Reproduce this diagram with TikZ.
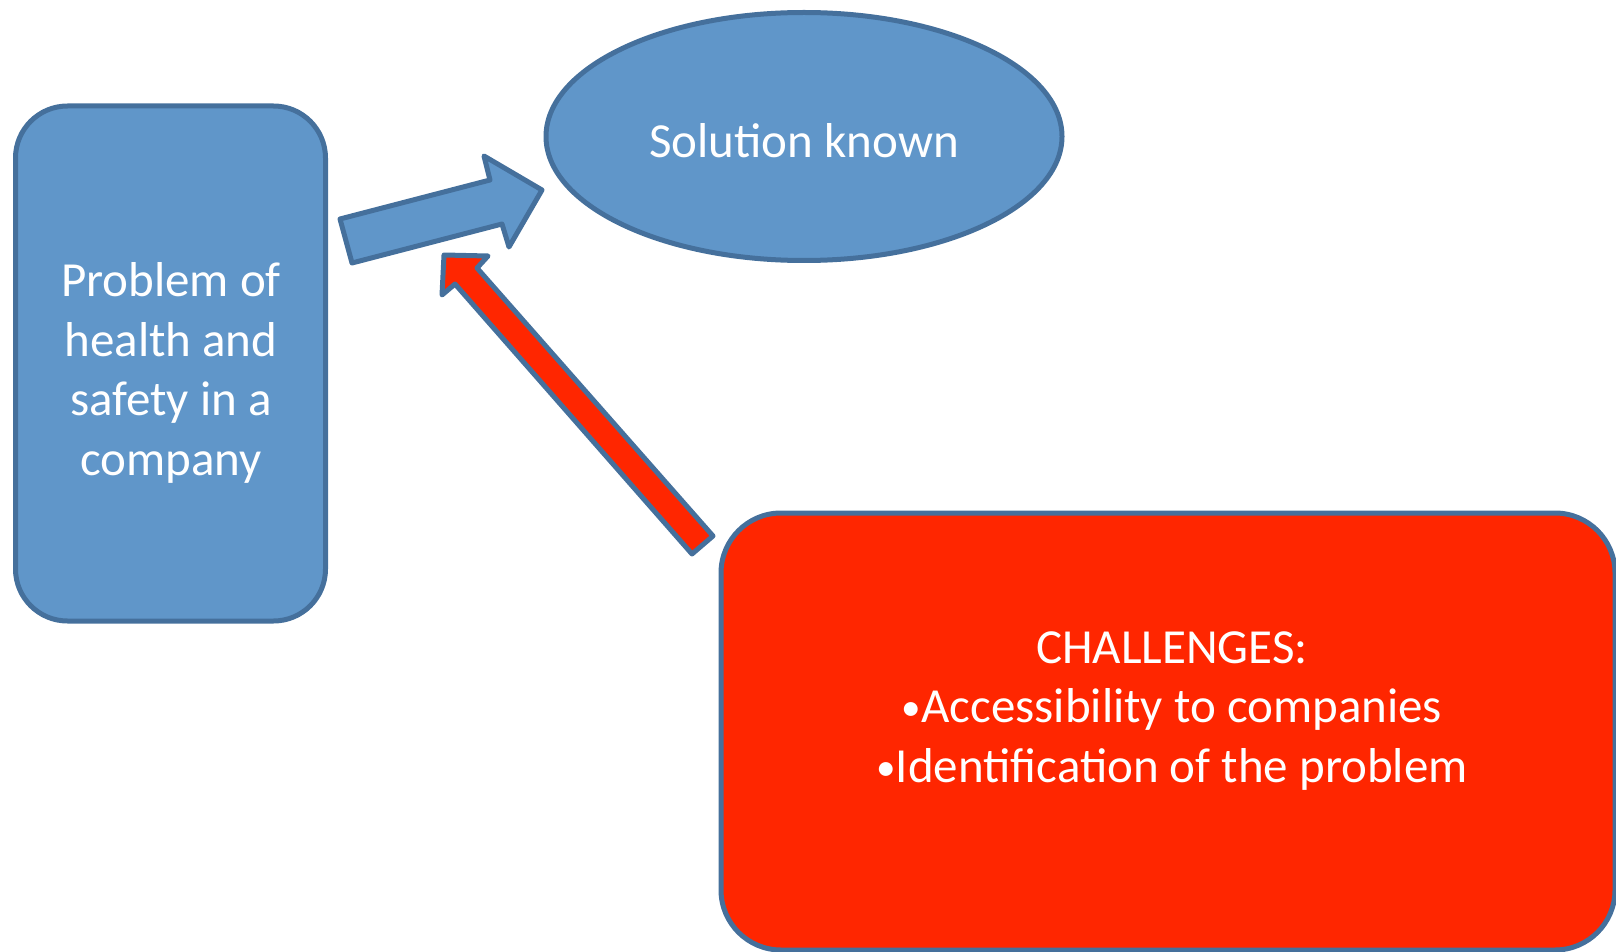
\documentclass[tikz,border=0pt]{standalone}
\usepackage{fontspec}
\setmainfont{Carlito}
\usetikzlibrary{shapes.geometric}
\definecolor{bfill}{HTML}{6096C9}
\definecolor{bline}{HTML}{45709C}
\definecolor{rfill}{HTML}{FF2600}
\tikzset{
  shapeline/.style={draw=bline, line width=2.5pt, line join=round},
  bluebox/.style={shapeline, fill=bfill, rectangle, rounded corners=26pt, inner sep=0pt},
  redbox/.style={shapeline, fill=rfill, rectangle, rounded corners=30pt, inner sep=0pt},
  oval/.style={shapeline, fill=bfill, ellipse, inner sep=0pt},
  label/.style={text=white, font=\fontsize{24.5pt}{29.75pt}\selectfont, align=center, inner sep=0pt},
  bluearrow/.style={shapeline, fill=bfill},
  redarrow/.style={shapeline, fill=rfill}
}
\newcommand{\smallbullet}{\raisebox{0.05em}{\scalebox{0.8}{•}}}
\begin{document}
\begin{tikzpicture}[x=0.5pt, y=-0.5pt]
\useasboundingbox (0,0) rectangle (1616,952);
% left box
\node[bluebox, minimum width=155pt, minimum height=257.5pt] (prob) at (170.5,363.5) {};
\node[label] (probtxt) at (171,373) {Problem of\\health and\\safety in a\\company};
% ellipse
\node[oval, minimum width=258pt, minimum height=124pt] (sol) at (804,136.5) {};
\node[label] (soltxt) at (804,141) {Solution known};
% red box
\node[redbox, minimum width=447pt, minimum height=218.5pt] (chal) at (1168,731.5) {};
\node[label] (chaltxt) at (1172,711) {CHALLENGES:\\\smallbullet Accessibility to companies\\\smallbullet Identification of the problem};
% blue block arrow
\draw[bluearrow] (340,219) -- (352,263) -- (502,224) -- (509,247) -- (542,190) -- (484,156) -- (490,180) -- cycle;
% red block arrow
\draw[redarrow] (444,255) -- (488,256) -- (477,268) -- (713,536) -- (692,554) -- (455,284) -- (442,295) -- cycle;
\end{tikzpicture}
\end{document}
